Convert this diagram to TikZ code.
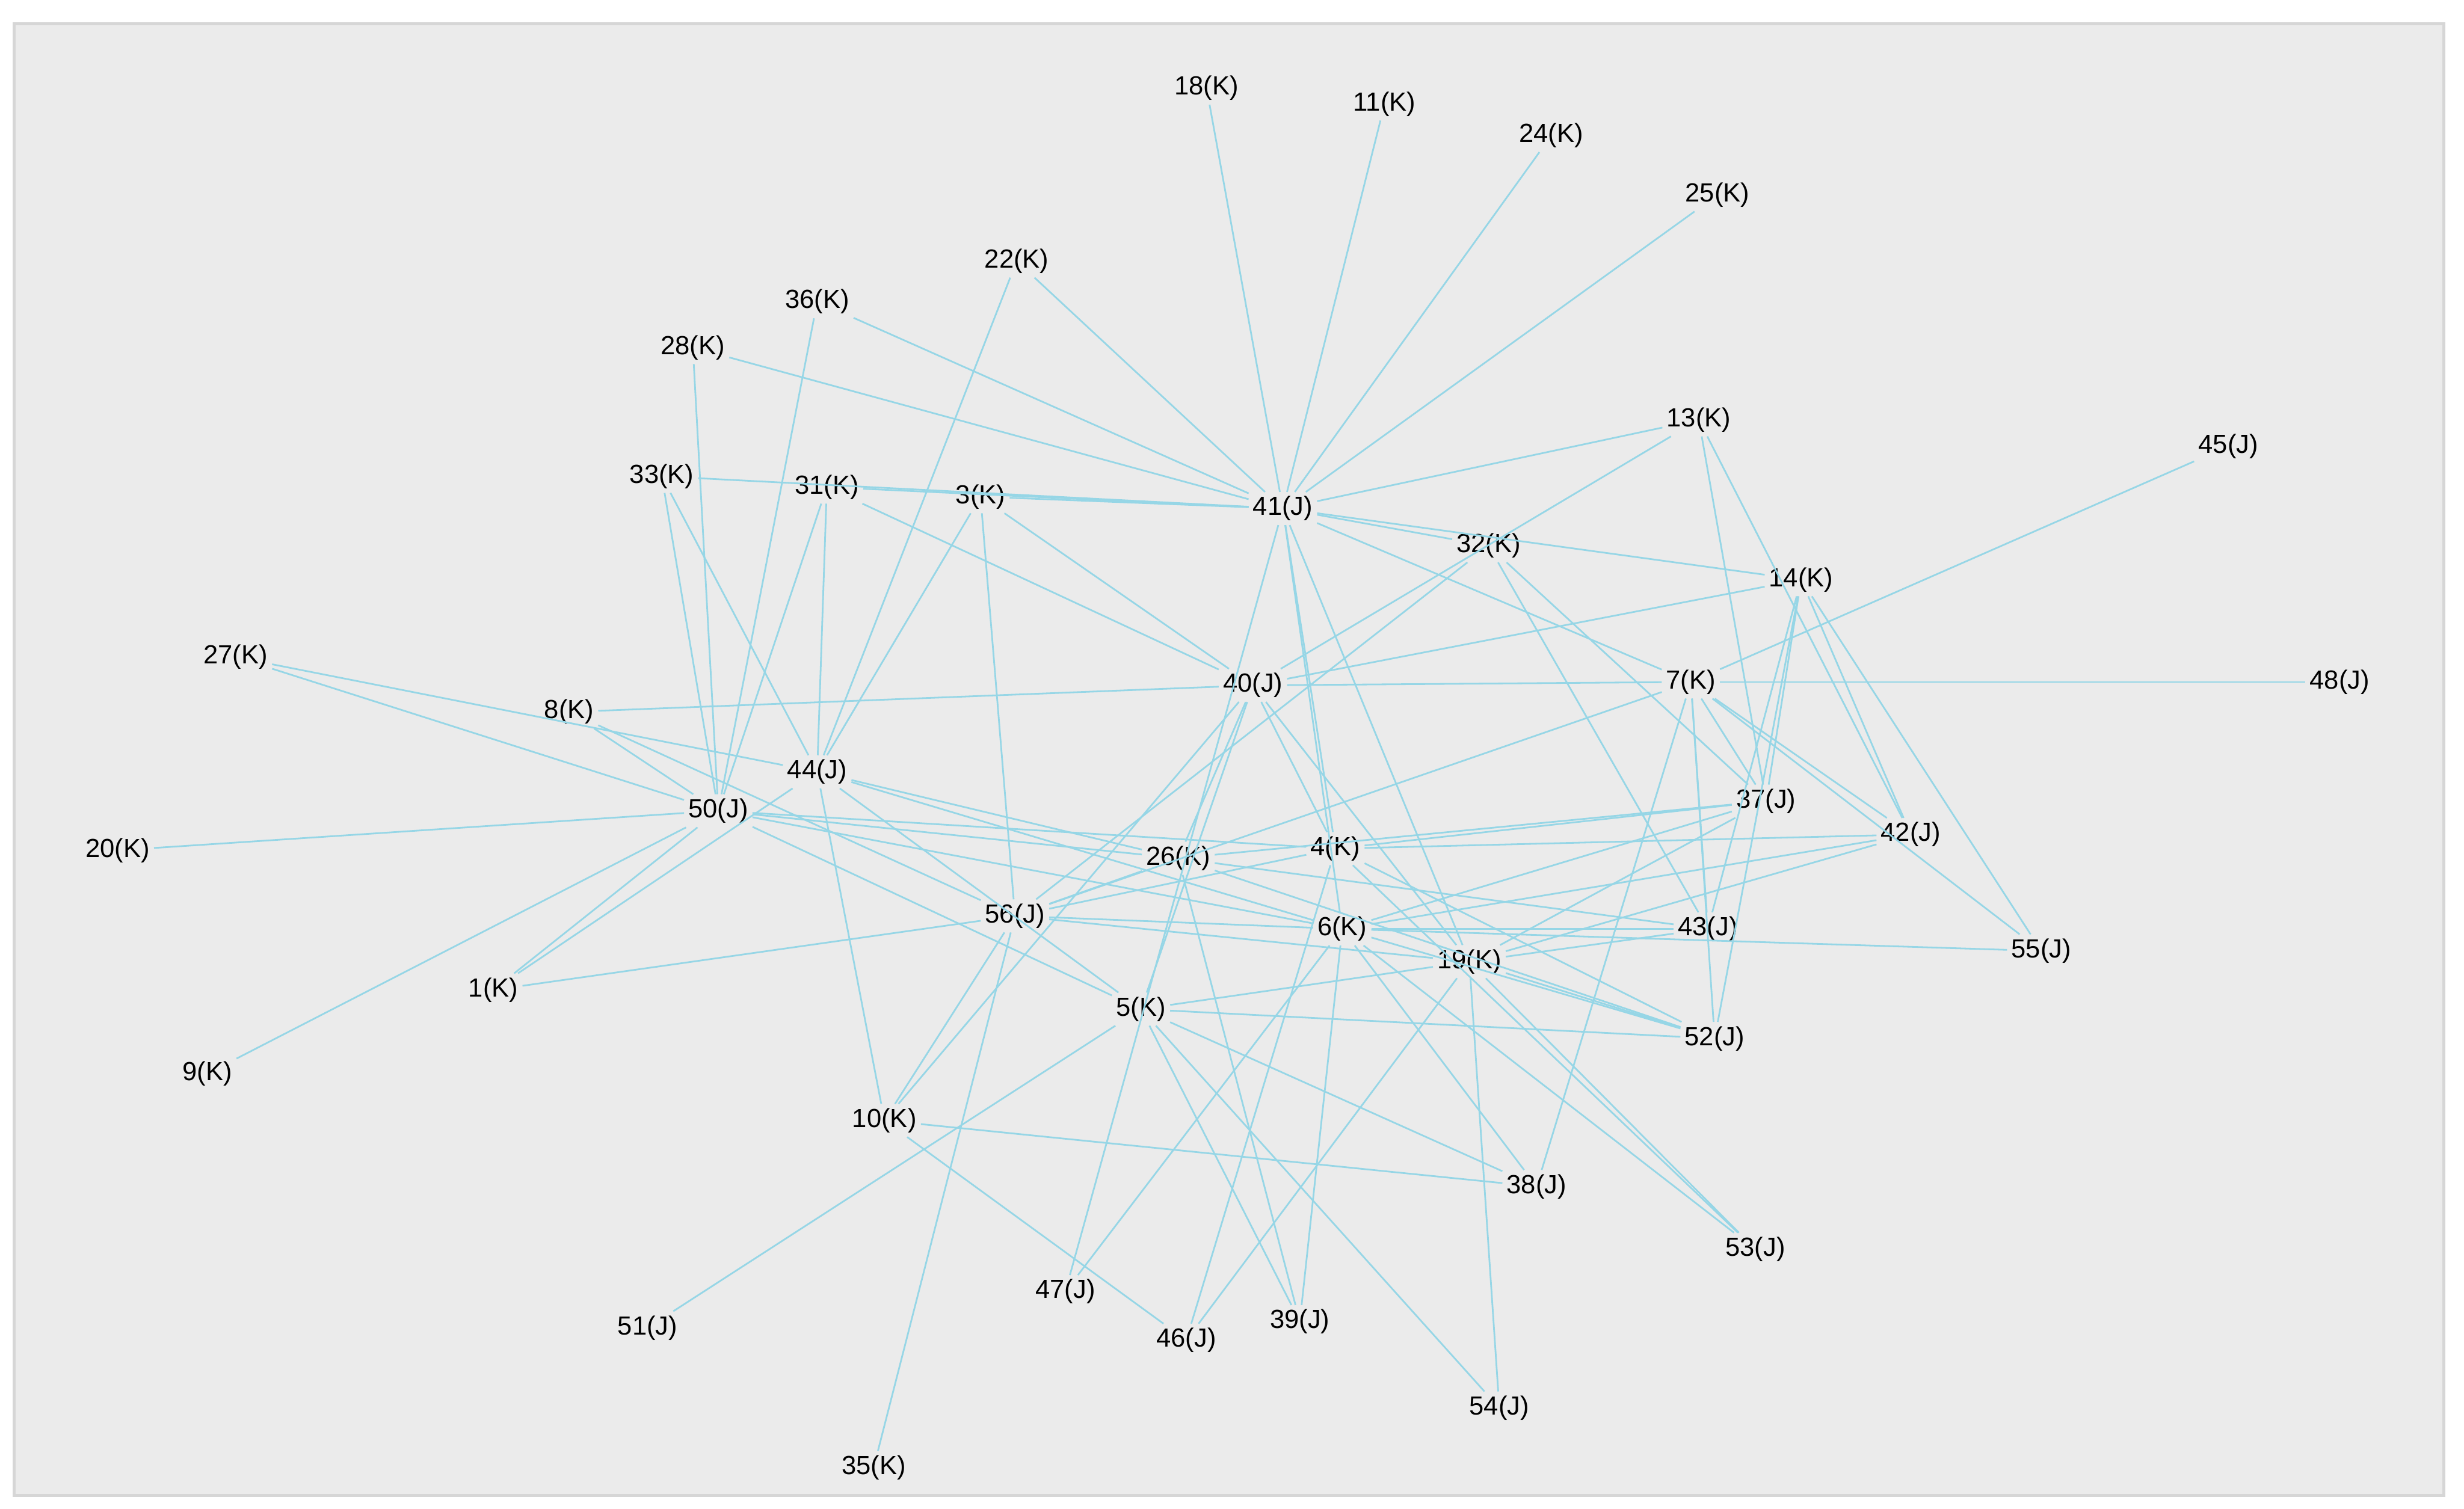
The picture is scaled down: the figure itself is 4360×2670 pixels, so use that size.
\documentclass[tikz,border=0pt]{standalone}
\usepackage{fontspec}
\setmainfont{Liberation Sans}
\definecolor{edgec}{RGB}{150,214,230}
\definecolor{panel}{RGB}{235,235,235}
\definecolor{panelb}{RGB}{214,214,214}
\begin{document}
\begin{tikzpicture}[x=0.01cm,y=-0.01cm,
  lab/.style={inner sep=2pt, font=\fontsize{13.2}{15}\selectfont, text=black},
  edge/.style={draw=edgec, line width=0.85pt}]
\useasboundingbox (0,0) rectangle (4360,2670);
\fill[white] (0,0) rectangle (4360,2670);
\draw[fill=panel, draw=panelb, line width=1.5pt] (25,42) rectangle (4324,2647);
\foreach \n/\x/\y/\t in {
 18/2135/150/18(K), 11/2450/178/11(K), 24/2745/234/24(K), 25/3039/339/25(K),
 22/1799/456/22(K), 36/1446/528/36(K), 28/1226/609/28(K), 13/3006/737/13(K),
 45/3943/784/45(J), 33/1171/837/33(K), 31/1463/856/31(K), 3/1735/873/3(K),
 41/2270/894/41(J), 32/2634/960/32(K), 14/3187/1020/14(K), 27/417/1157/27(K),
 40/2217/1207/40(J), 7/2992/1201/7(K), 48/4140/1201/48(J), 8/1007/1254/8(K),
 44/1446/1360/44(J), 50/1271/1429/50(J), 37/3125/1412/37(J), 20/208/1499/20(K),
 42/3381/1471/42(J), 4/2363/1496/4(K), 26/2085/1513/26(K), 56/1796/1615/56(J),
 6/2375/1638/6(K), 43/3022/1638/43(J), 19/2600/1696/19(K), 55/3612/1677/55(J),
 1/873/1746/1(K), 5/2019/1780/5(K), 52/3034/1832/52(J), 9/367/1894/9(K),
 10/1565/1977/10(K), 38/2719/2094/38(J), 53/3106/2205/53(J), 47/1885/2280/47(J),
 46/2099/2366/46(J), 39/2300/2333/39(J), 51/1146/2344/51(J), 54/2653/2486/54(J),
 35/1546/2591/35(K)}
 \node[lab] (n\n) at (\x,\y+6) {\t};
\foreach \a/\b in {
 18/41, 11/41, 24/41, 25/41, 22/41, 22/44, 36/41, 36/50, 28/41, 28/50,
 33/41, 33/50, 33/44, 31/41, 31/40, 31/44, 31/50, 3/41, 3/40, 3/44, 3/56,
 27/44, 27/50, 8/40, 8/50, 8/56, 20/50, 9/50, 1/50, 1/44, 1/56,
 44/10, 44/5, 44/26, 44/6,
 50/4, 50/26, 50/6, 50/5,
 10/56, 10/40, 10/38, 10/46, 35/56, 51/5,
 13/41, 13/40, 13/37, 13/42,
 41/32, 41/14, 41/7, 41/47, 41/4, 41/6, 41/19,
 32/56, 32/37, 32/43,
 40/7, 7/48, 45/7, 40/14, 40/26, 40/5, 40/4, 40/19,
 56/26, 56/7, 56/4, 56/6, 56/19,
 26/37, 26/43, 26/52, 26/39,
 4/37, 4/42, 4/52, 4/53, 4/46,
 5/19, 5/52, 5/38, 5/39, 5/54,
 6/37, 6/42, 6/43, 6/55, 6/52, 6/53, 6/38, 6/39, 6/47,
 19/37, 19/42, 19/43, 19/52, 19/53, 19/54, 19/46,
 7/37, 7/42, 7/55, 7/43, 7/52, 7/38,
 14/42, 14/55, 14/37, 14/43, 14/52}
 \draw[edge] (n\a) -- (n\b);
\end{tikzpicture}
\end{document}
